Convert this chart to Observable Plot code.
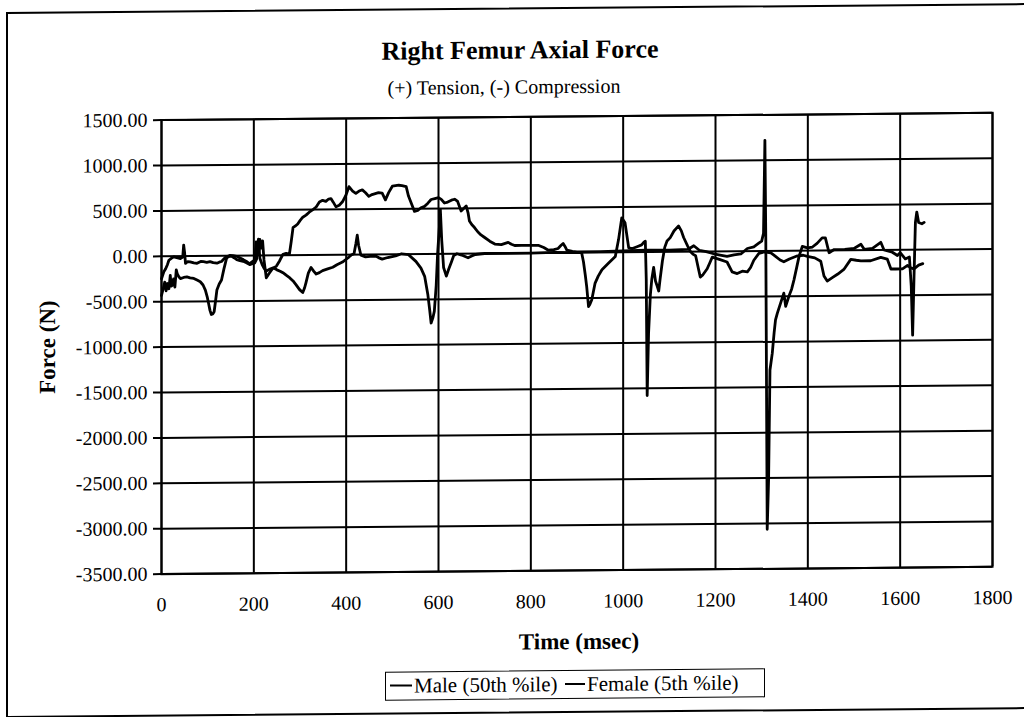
<!DOCTYPE html>
<html>
<head>
<meta charset="utf-8">
<script src="https://cdn.jsdelivr.net/npm/d3@7"></script>
<script src="https://cdn.jsdelivr.net/npm/@observablehq/plot@0.6"></script>
<style>
  html, body { margin: 0; padding: 0; background: #fff; overflow: hidden; }
  #wrap { position: relative; width: 1024px; height: 717px; overflow: hidden;
          transform: skewY(-0.5deg); transform-origin: 576px 343px;
          font-family: "Liberation Serif", "Times New Roman", serif; color: #000; }
  #plot { position: absolute; left: 0; top: 0; }
  .outer { position: absolute; left: 6px; top: 7px; width: 1040px; height: 706px;
           border: 2px solid #000; box-sizing: border-box; }
  .txt { position: absolute; white-space: nowrap; line-height: 1; }
  .title { left: 520px; top: 37px; transform: translateX(-50%); font-weight: bold; font-size: 26px; }
  .subtitle { left: 504px; top: 76px; transform: translateX(-50%); font-size: 20px; }
  .xlabel { left: 579px; top: 630px; transform: translateX(-50%); font-weight: bold; font-size: 23px; }
  .ylabel { left: -53px; top: 331px; width: 200px; text-align: center; transform: rotate(-90deg);
            font-weight: bold; font-size: 23px; }
  .legend { position: absolute; left: 385px; top: 670px; width: 380px; height: 29px;
            border: 1.5px solid #000; box-sizing: border-box; }
  .swatch { position: absolute; height: 2px; background: #000; top: 683px; }
  .ltext { font-size: 21px; top: 674px; }
</style>
</head>
<body>
<div id="wrap">
  <div id="plot"></div>
  <div class="outer"></div>
  <div class="txt title">Right Femur Axial Force</div>
  <div class="txt subtitle">(+) Tension, (-) Compression</div>
  <div class="txt xlabel">Time (msec)</div>
  <div class="txt ylabel">Force (N)</div>
  <div class="legend"></div>
  <div class="swatch" style="left:390px;width:22px"></div>
  <div class="txt ltext" style="left:414px">Male (50th %ile)</div>
  <div class="swatch" style="left:565px;width:20px"></div>
  <div class="txt ltext" style="left:587px">Female (5th %ile)</div>
</div>
<script>
// Axis ticks
const xTicks = [0, 200, 400, 600, 800, 1000, 1200, 1400, 1600, 1800];
const yTicks = [1500, 1000, 500, 0, -500, -1000, -1500, -2000, -2500, -3000, -3500];

// Male (50th %ile): time (msec) and force (N)
const tMale = [0,5,9,13,16,22,27,35,41,46,48,50,52,57,62,70,77,85,91,98,105,112,120,125,130,136,141,147,152,158,163,170,177,184,191,197,202,206,209,211,213,216,219,222,227,233,240,249,256,263,270,277,281,285,290,295,300,306,313,320,328,335,342,349,356,362,367,372,378,385,392,399,406,414,421,428,435,442,449,456,463,470,478,485,492,500,507,514,521,530,535,548,555,562,570,577,584,592,600,606,613,620,628,635,641,649,655,660,664,667,672,678,685,692,700,711,722,736,751,758,765,780,801,816,828,838,850,859,865,870,874,878,890,900,950,1000,1050,1100,1140,1153,1165,1180,1196,1210,1225,1240,1255,1269,1283,1293,1300,1304,1307,1309,1312,1315,1318,1323,1327,1330,1334,1341,1348,1352,1359,1365,1370,1376,1381,1388,1399,1410,1420,1431,1438,1446,1457,1480,1500,1515,1522,1540,1558,1565,1583,1594,1600,1611,1620,1624,1627,1630,1633,1636,1640,1647,1652];
const fMale = [-247,-170,-137,-90,-44,-20,-7,-20,-26,-10,122,40,-81,-60,-63,-75,-81,-60,-63,-70,-63,-75,-81,-70,-63,-30,-7,-5,-7,-25,-44,-55,-63,-80,-100,-90,-81,-40,150,50,177,80,160,-50,-247,-200,-150,-118,-60,11,20,11,150,306,320,343,380,417,440,472,500,528,583,601,590,615,620,580,528,545,583,650,749,700,675,700,712,680,640,660,670,680,675,600,680,750,755,760,756,745,640,470,480,510,525,560,600,610,620,600,560,570,590,600,580,470,500,525,450,360,320,287,240,205,176,135,103,96,120,100,85,85,85,85,60,30,35,48,80,103,70,30,15,10,10,15,20,20,25,65,15,0,-25,-40,-55,-40,-30,30,48,85,110,195,1220,100,-3065,-2520,-1310,-1125,-900,-760,-685,-575,-465,-610,-500,-420,-320,-180,-62,48,30,40,80,140,140,-25,10,10,20,65,10,20,85,0,-25,-62,-30,-100,-80,-400,-940,-300,300,415,300,285,300];

// Female (5th %ile): time (msec) and force (N)
const tFemale = [0,4,7,10,13,16,19,21,23,26,29,32,34,38,41,48,55,62,70,77,84,90,95,99,102,105,108,111,114,117,120,125,130,135,141,148,155,163,170,177,184,191,196,199,202,205,207,210,213,218,222,227,235,242,250,257,263,270,278,285,292,299,306,310,313,318,324,330,335,342,349,360,371,380,392,400,406,412,417,421,424,427,432,442,452,464,470,478,490,507,520,535,551,562,570,577,581,584,588,591,595,598,602,604,607,611,617,622,628,633,640,650,664,672,680,700,750,800,850,900,910,914,918,921,925,928,932,939,946,954,968,983,990,997,1004,1012,1020,1030,1040,1045,1048,1050,1052,1055,1059,1062,1066,1070,1074,1077,1080,1085,1090,1095,1102,1110,1120,1126,1131,1140,1146,1152,1157,1164,1167,1172,1182,1188,1193,1210,1225,1236,1247,1258,1269,1276,1283,1294,1305,1320,1330,1340,1348,1360,1375,1390,1399,1415,1428,1435,1442,1453,1465,1478,1493,1505,1515,1536,1558,1572,1580,1590,1605,1616,1623,1630,1640,1649];
const fFemale = [-432,-350,-284,-380,-300,-358,-210,-330,-321,-250,-340,-150,-192,-230,-247,-235,-229,-240,-247,-265,-284,-320,-376,-450,-524,-600,-646,-640,-616,-500,-376,-310,-266,-150,-26,4,0,-7,-25,-44,-65,-92,-70,-60,-50,150,20,180,-30,-100,-140,-173,-150,-137,-160,-175,-192,-220,-250,-284,-330,-380,-413,-360,-303,-200,-137,-180,-210,-195,-173,-155,-137,-110,-81,-50,-26,0,11,120,214,100,-7,-26,-20,-18,-35,-52,-35,-18,5,-5,-80,-155,-246,-450,-620,-760,-700,-630,-350,0,300,490,150,-150,-246,-170,-90,-20,0,-15,-45,-25,-10,0,0,0,5,0,0,-100,-250,-375,-595,-570,-520,-340,-260,-190,-120,-45,140,380,325,48,40,60,80,110,120,-300,-1580,-900,-465,-300,-170,-320,-380,-430,-300,-100,50,120,157,230,285,230,157,60,0,-30,-45,-210,-280,-260,-190,-120,-62,-90,-117,-227,-245,-220,-227,-180,-100,-25,-10,-20,-60,-100,-120,-90,-60,-50,-62,-80,-117,-280,-337,-300,-260,-210,-100,-110,-117,-117,-80,-100,-210,-210,-210,-172,-200,-210,-170,-154];

const male = tMale.map((t, i) => ({t, f: fMale[i]}));
const female = tFemale.map((t, i) => ({t, f: fFemale[i]}));

const chart = Plot.plot({
  width: 1024,
  height: 620,
  marginTop: 116,
  marginBottom: 50,
  marginLeft: 161,
  marginRight: 32,
  style: {
    fontFamily: "'Liberation Serif', 'Times New Roman', serif",
    fontSize: "20px",
    color: "black",
    background: "transparent",
    overflow: "visible"
  },
  x: {domain: [0, 1800]},
  y: {domain: [-3500, 1500]},
  marks: [
    Plot.gridX(xTicks, {stroke: "black", strokeOpacity: 1, strokeWidth: 2}),
    Plot.gridY(yTicks, {stroke: "black", strokeOpacity: 1, strokeWidth: 2}),
    Plot.frame({stroke: "black", strokeWidth: 2}),
    Plot.axisX(xTicks, {tickSize: 0, tickPadding: 23, label: null, tickFormat: d => String(d)}),
    Plot.axisY(yTicks, {tickSize: 8, tickPadding: 6, label: null, tickFormat: d => d.toFixed(2), strokeWidth: 2}),
    Plot.line(male, {x: "t", y: "f", stroke: "black", strokeWidth: 2.8}),
    Plot.line(female, {x: "t", y: "f", stroke: "black", strokeWidth: 2.8})
  ]
});
document.getElementById("plot").appendChild(chart);
</script>
</body>
</html>
